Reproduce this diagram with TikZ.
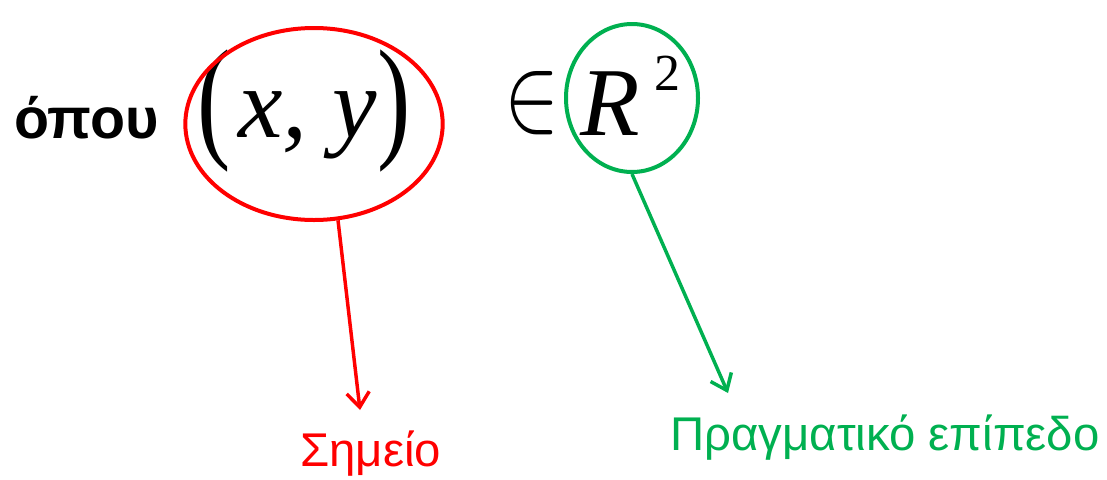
\documentclass[tikz,border=0pt]{standalone}
\usepackage{fontspec}
\usepackage{graphicx}
\setmainfont{Liberation Serif}
\newfontfamily\timesfont{Liberation Serif}
\newfontfamily\arialfont{Liberation Sans}
\usetikzlibrary{shapes.geometric, arrows.meta}
\definecolor{ptred}{RGB}{255,0,0}
\definecolor{planegreen}{RGB}{0,176,80}
\tikzset{
  ring/.style={ellipse, draw, line width=3pt, inner sep=0pt},
  pointer/.style={line width=2.6pt, -{Straight Barb[length=11pt, width=17pt]}},
  bigmath/.style={inner sep=0pt, font=\timesfont\fontsize{75}{80}\selectfont},
  label text/.style={inner sep=0pt, anchor=base west, font=\arialfont\fontsize{35.5}{38}\selectfont},
}

\begin{document}
\begin{tikzpicture}[x=0.75pt, y=-0.75pt]
    \useasboundingbox (0,0) rectangle (1107,479);
    % the word in front
    \node[inner sep=0pt, anchor=base west, font=\arialfont\bfseries\fontsize{43}{46}\selectfont] (opou) at (14,138) {όπου};
    % the point (x, y)
    \node[bigmath] (lpar) at (214,111) {\scalebox{1}[1.35]{(}};
    \node[bigmath, anchor=base west] (xy) at (238,137) {\itshape x, y};
    \node[bigmath] (rpar) at (394,111) {\scalebox{1}[1.35]{)}};
    \node[ring, draw=ptred, minimum width=193pt, minimum height=144pt] (pt) at (314,124) {};
    % belongs to R^2
    \node[inner sep=0pt] (in) at (532,103) {\scalebox{6.2}[8.2]{$\in$}};
    \node[bigmath, anchor=base west, font=\timesfont\fontsize{73}{78}\selectfont] (R) at (580,135) {\itshape R};
    \node[inner sep=0pt, anchor=base west, font=\timesfont\fontsize{39}{40}\selectfont] (sq) at (654,90) {2};
    \node[ring, draw=planegreen, minimum width=99pt, minimum height=111pt] (plane) at (632,98) {};
    % labels
    \node[label text, text=ptred, font=\arialfont\fontsize{35.5}{38}\selectfont] (ptlbl) at (300,466) {Σημείο};
    \node[label text, text=planegreen] (planelbl) at (670,450) {Πραγματικό επίπεδο};
    % arrows
    \coordinate (pttip) at (360,410);
    \coordinate (planetip) at (728,393);
    \draw[pointer, ptred] (pt.-76) -- (pttip);
    \draw[pointer, planegreen] (plane.south) -- (planetip);
\end{tikzpicture}
\end{document}
